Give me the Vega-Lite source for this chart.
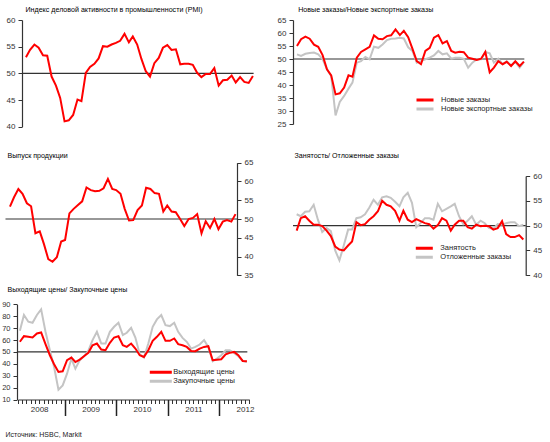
{
  "$schema": "https://vega.github.io/schema/vega-lite/v6.json",
  "width": 550,
  "height": 442,
  "autosize": "none",
  "padding": 0,
  "background": "white",
  "config": {
    "view": {"stroke": null},
    "font": "Liberation Sans",
    "axis": {"grid": false, "labelFont": "Liberation Sans", "labelFontSize": 8, "labelColor": "#333", "domainColor": "#333", "domainWidth": 1.2, "tickColor": "#333", "tickSize": 4, "labelPadding": 3, "titleFont": "Liberation Sans", "titleFontSize": 7.1, "titleFontWeight": "normal", "titleColor": "#000", "titleAngle": 0, "titleAlign": "left", "titleBaseline": "middle"},
    "legend": {"title": null, "labelFont": "Liberation Sans", "labelFontSize": 7.5, "labelColor": "#222", "labelBaseline": "middle", "symbolSize": 49, "symbolStrokeWidth": 3, "clipHeight": 7, "rowPadding": 1, "padding": 0, "labelOffset": 16}
  },
  "datasets": {
    "ref": [
      {"p": "A", "m": "2008-01-18", "m2": "2012-07-20", "v": 50},
      {"p": "B", "m": "2008-01-18", "m2": "2012-07-18", "v": 50},
      {"p": "C", "m": "2008-01-14", "m2": "2012-07-26", "v": 50},
      {"p": "D", "m": "2008-01-20", "m2": "2012-08-01", "v": 50},
      {"p": "E", "m": "2008-01-25", "m2": "2012-07-18", "v": 50}
    ],
    "main": [
      {"m": "2008-02-15", "pmi": 53.0, "out": 53.3, "Новые заказы": 55.0, "Новые экспортные заказы": 51.8, "Занятость": 49.0, "Отложенные заказы": 52.3, "Выходящие цены": 58.5, "Закупочные цены": 67.7},
      {"m": "2008-03-15", "pmi": 54.4, "out": 55.8, "Новые заказы": 57.6, "Новые экспортные заказы": 51.2, "Занятость": 51.5, "Отложенные заказы": 51.9, "Выходящие цены": 63.2, "Закупочные цены": 81.0},
      {"m": "2008-04-15", "pmi": 55.4, "out": 58.0, "Новые заказы": 58.6, "Новые экспортные заказы": 52.0, "Занятость": 51.9, "Отложенные заказы": 52.8, "Выходящие цены": 62.7, "Закупочные цены": 75.4},
      {"m": "2008-05-15", "pmi": 54.8, "out": 56.7, "Новые заказы": 57.8, "Новые экспортные заказы": 52.3, "Занятость": 51.0, "Отложенные заказы": 52.9, "Выходящие цены": 62.1, "Закупочные цены": 74.5},
      {"m": "2008-06-15", "pmi": 53.4, "out": 54.2, "Новые заказы": 55.5, "Новые экспортные заказы": 52.5, "Занятость": 50.2, "Отложенные заказы": 54.2, "Выходящие цены": 65.5, "Закупочные цены": 81.0},
      {"m": "2008-07-15", "pmi": 53.3, "out": 53.4, "Новые заказы": 54.7, "Новые экспортные заказы": 51.8, "Занятость": 50.2, "Отложенные заказы": 51.2, "Выходящие цены": 66.3, "Закупочные цены": 85.8},
      {"m": "2008-08-15", "pmi": 49.4, "out": 46.2, "Новые заказы": 51.5, "Новые экспортные заказы": 50.0, "Занятость": 49.9, "Отложенные заказы": 48.7, "Выходящие цены": 56.5, "Закупочные цены": 66.9},
      {"m": "2008-09-15", "pmi": 47.7, "out": 46.7, "Новые заказы": 46.0, "Новые экспортные заказы": 46.0, "Занятость": 49.0, "Отложенные заказы": 49.5, "Выходящие цены": 47.2, "Закупочные цены": 51.4},
      {"m": "2008-10-15", "pmi": 45.4, "out": 43.3, "Новые заказы": 43.7, "Новые экспортные заказы": 43.5, "Занятость": 47.9, "Отложенные заказы": 48.9, "Выходящие цены": 39.6, "Закупочные цены": 37.3},
      {"m": "2008-11-15", "pmi": 41.0, "out": 39.3, "Новые заказы": 36.4, "Новые экспортные заказы": 28.3, "Занятость": 45.8, "Отложенные заказы": 45.0, "Выходящие цены": 33.1, "Закупочные цены": 18.2},
      {"m": "2008-12-15", "pmi": 41.2, "out": 38.6, "Новые заказы": 36.8, "Новые экспортные заказы": 33.5, "Занятость": 45.2, "Отложенные заказы": 43.0, "Выходящие цены": 33.7, "Закупочные цены": 21.8},
      {"m": "2009-01-15", "pmi": 42.2, "out": 39.8, "Новые заказы": 39.0, "Новые экспортные заказы": 35.8, "Занятость": 45.0, "Отложенные заказы": 46.0, "Выходящие цены": 43.0, "Закупочные цены": 31.7},
      {"m": "2009-02-15", "pmi": 45.1, "out": 44.0, "Новые заказы": 43.7, "Новые экспортные заказы": 38.6, "Занятость": 46.0, "Отложенные заказы": 49.2, "Выходящие цены": 45.2, "Закупочные цены": 44.4},
      {"m": "2009-03-15", "pmi": 44.8, "out": 44.4, "Новые заказы": 43.2, "Новые экспортные заказы": 40.9, "Занятость": 46.8, "Отложенные заказы": 49.2, "Выходящие цены": 41.5, "Закупочные цены": 35.9},
      {"m": "2009-04-15", "pmi": 50.1, "out": 51.5, "Новые заказы": 50.5, "Новые экспортные заказы": 48.6, "Занятость": 50.7, "Отложенные заказы": 51.5, "Выходящие цены": 43.5, "Закупочные цены": 43.0},
      {"m": "2009-05-15", "pmi": 51.2, "out": 52.7, "Новые заказы": 52.7, "Новые экспортные заказы": 49.2, "Занятость": 50.1, "Отложенные заказы": 51.7, "Выходящие цены": 46.3, "Закупочные цены": 46.3},
      {"m": "2009-06-15", "pmi": 51.8, "out": 53.7, "Новые заказы": 53.7, "Новые экспортные заказы": 50.8, "Занятость": 50.3, "Отложенные заказы": 52.3, "Выходящие цены": 49.2, "Закупочные цены": 50.8},
      {"m": "2009-07-15", "pmi": 52.8, "out": 54.7, "Новые заказы": 54.7, "Новые экспортные заказы": 49.9, "Занятость": 51.2, "Отложенные заказы": 53.6, "Выходящие цены": 55.6, "Закупочные цены": 59.9},
      {"m": "2009-08-15", "pmi": 55.1, "out": 58.4, "Новые заказы": 59.1, "Новые экспортные заказы": 54.7, "Занятость": 51.9, "Отложенные заказы": 55.2, "Выходящие цены": 57.0, "Закупочные цены": 66.9},
      {"m": "2009-09-15", "pmi": 55.0, "out": 57.7, "Новые заказы": 57.8, "Новые экспортные заказы": 54.3, "Занятость": 52.9, "Отложенные заказы": 54.2, "Выходящие цены": 52.0, "Закупочные цены": 57.0},
      {"m": "2009-10-15", "pmi": 55.4, "out": 57.4, "Новые заказы": 57.6, "Новые экспортные заказы": 55.6, "Занятость": 55.0, "Отложенные заказы": 55.7, "Выходящие цены": 51.4, "Закупочные цены": 57.0},
      {"m": "2009-11-15", "pmi": 55.7, "out": 57.5, "Новые заказы": 58.8, "Новые экспортные заказы": 57.3, "Занятость": 54.2, "Отложенные заказы": 55.9, "Выходящие цены": 57.6, "Закупочные цены": 66.9},
      {"m": "2009-12-15", "pmi": 56.1, "out": 58.2, "Новые заказы": 59.1, "Новые экспортные заказы": 57.8, "Занятость": 53.9, "Отложенные заказы": 55.6, "Выходящие цены": 62.1, "Закупочные цены": 71.1},
      {"m": "2010-01-15", "pmi": 57.4, "out": 60.7, "Новые заказы": 61.4, "Новые экспортные заказы": 57.9, "Занятость": 53.0, "Отложенные заказы": 54.8, "Выходящие цены": 63.2, "Закупочные цены": 74.5},
      {"m": "2010-02-15", "pmi": 55.8, "out": 58.0, "Новые заказы": 59.2, "Новые экспортные заказы": 58.2, "Занятость": 51.0, "Отложенные заказы": 53.9, "Выходящие цены": 55.6, "Закупочные цены": 64.1},
      {"m": "2010-03-15", "pmi": 56.9, "out": 57.7, "Новые заказы": 60.8, "Новые экспортные заказы": 57.9, "Занятость": 53.0, "Отложенные заказы": 55.7, "Выходящие цены": 54.2, "Закупочные цены": 66.1},
      {"m": "2010-04-15", "pmi": 55.4, "out": 56.7, "Новые заказы": 58.4, "Новые экспортные заказы": 54.5, "Занятость": 51.2, "Отложенные заказы": 56.6, "Выходящие цены": 57.0, "Закупочные цены": 70.3},
      {"m": "2010-05-15", "pmi": 52.7, "out": 52.7, "Новые заказы": 54.0, "Новые экспортные заказы": 53.1, "Занятость": 50.7, "Отложенные заказы": 54.6, "Выходящие цены": 52.8, "Закупочные цены": 62.1},
      {"m": "2010-06-15", "pmi": 50.4, "out": 49.6, "Новые заказы": 49.2, "Новые экспортные заказы": 48.6, "Занятость": 51.3, "Отложенные заказы": 49.7, "Выходящие цены": 47.2, "Закупочные цены": 48.0},
      {"m": "2010-07-15", "pmi": 49.4, "out": 49.7, "Новые заказы": 48.0, "Новые экспортные заказы": 49.2, "Занятость": 50.9, "Отложенные заказы": 50.5, "Выходящие цены": 45.8, "Закупочные цены": 45.2},
      {"m": "2010-08-15", "pmi": 51.9, "out": 52.4, "Новые заказы": 53.1, "Новые экспортные заказы": 49.9, "Занятость": 50.5, "Отложенные заказы": 51.5, "Выходящие цены": 51.4, "Закупочные цены": 57.0},
      {"m": "2010-09-15", "pmi": 52.9, "out": 53.6, "Новые заказы": 54.3, "Новые экспортные заказы": 50.5, "Занятость": 50.3, "Отложенные заказы": 51.5, "Выходящие цены": 59.3, "Закупочные цены": 71.1},
      {"m": "2010-10-15", "pmi": 54.8, "out": 58.3, "Новые заказы": 58.2, "Новые экспортные заказы": 51.4, "Занятость": 49.4, "Отложенные заказы": 51.2, "Выходящие цены": 62.7, "Закупочные цены": 77.3},
      {"m": "2010-11-15", "pmi": 55.3, "out": 58.0, "Новые заказы": 59.2, "Новые экспортные заказы": 53.1, "Занятость": 50.1, "Отложенные заказы": 54.4, "Выходящие цены": 66.9, "Закупочные цены": 81.0},
      {"m": "2010-12-15", "pmi": 54.4, "out": 56.9, "Новые заказы": 56.0, "Новые экспортные заказы": 51.8, "Занятость": 51.5, "Отложенные заказы": 52.9, "Выходящие цены": 59.3, "Закупочные цены": 72.5},
      {"m": "2011-01-15", "pmi": 54.5, "out": 56.7, "Новые заказы": 56.9, "Новые экспортные заказы": 52.2, "Занятость": 51.0, "Отложенные заказы": 53.4, "Выходящие цены": 59.3, "Закупочные цены": 71.7},
      {"m": "2011-02-15", "pmi": 51.7, "out": 52.0, "Новые заказы": 53.1, "Новые экспортные заказы": 50.1, "Занятость": 49.0, "Отложенные заказы": 53.9, "Выходящие цены": 61.3, "Закупочные цены": 74.5},
      {"m": "2011-03-15", "pmi": 51.8, "out": 53.6, "Новые заказы": 52.4, "Новые экспортные заказы": 50.5, "Занятость": 50.2, "Отложенные заказы": 54.4, "Выходящие цены": 56.5, "Закупочные цены": 66.9},
      {"m": "2011-04-15", "pmi": 51.8, "out": 52.0, "Новые заказы": 52.8, "Новые экспортные заказы": 50.5, "Занятость": 51.0, "Отложенные заказы": 51.9, "Выходящие цены": 55.6, "Закупочные цены": 61.8},
      {"m": "2011-05-15", "pmi": 51.6, "out": 51.8, "Новые заказы": 52.6, "Новые экспортные заказы": 50.1, "Занятость": 51.0, "Отложенные заказы": 50.3, "Выходящие цены": 54.2, "Закупочные цены": 58.5},
      {"m": "2011-06-15", "pmi": 50.1, "out": 50.0, "Новые заказы": 50.5, "Новые экспортные заказы": 46.7, "Занятость": 49.7, "Отложенные заказы": 51.0, "Выходящие цены": 50.8, "Закупочные цены": 52.8},
      {"m": "2011-07-15", "pmi": 49.3, "out": 48.1, "Новые заказы": 50.1, "Новые экспортные заказы": 48.6, "Занятость": 49.4, "Отложенные заказы": 51.9, "Выходящие цены": 50.6, "Закупочные цены": 54.2},
      {"m": "2011-08-15", "pmi": 49.9, "out": 50.0, "Новые заказы": 49.6, "Новые экспортные заказы": 49.9, "Занятость": 50.2, "Отложенные заказы": 50.2, "Выходящие цены": 52.8, "Закупочные цены": 56.2},
      {"m": "2011-09-15", "pmi": 49.9, "out": 50.3, "Новые заказы": 50.1, "Новые экспортные заказы": 49.9, "Занятость": 49.9, "Отложенные заказы": 51.0, "Выходящие цены": 54.2, "Закупочные цены": 59.9},
      {"m": "2011-10-15", "pmi": 51.0, "out": 51.3, "Новые заказы": 52.7, "Новые экспортные заказы": 52.7, "Занятость": 50.0, "Отложенные заказы": 50.5, "Выходящие цены": 54.8, "Закупочные цены": 54.2},
      {"m": "2011-11-15", "pmi": 47.7, "out": 46.2, "Новые заказы": 44.9, "Новые экспортные заказы": 52.2, "Занятость": 49.9, "Отложенные заказы": 49.5, "Выходящие цены": 43.0, "Закупочные цены": 42.1},
      {"m": "2011-12-15", "pmi": 48.7, "out": 49.4, "Новые заказы": 46.7, "Новые экспортные заказы": 48.6, "Занятость": 49.2, "Отложенные заказы": 49.4, "Выходящие цены": 43.5, "Закупочные цены": 44.4},
      {"m": "2012-01-15", "pmi": 48.8, "out": 47.6, "Новые заказы": 49.2, "Новые экспортные заказы": 50.1, "Занятость": 49.5, "Отложенные заказы": 50.3, "Выходящие цены": 43.8, "Закупочные цены": 47.2},
      {"m": "2012-02-15", "pmi": 49.6, "out": 50.0, "Новые заказы": 48.0, "Новые экспортные заказы": 48.0, "Занятость": 50.9, "Отложенные заказы": 50.2, "Выходящие цены": 48.0, "Закупочные цены": 51.4},
      {"m": "2012-03-15", "pmi": 48.3, "out": 47.3, "Новые заказы": 48.9, "Новые экспортные заказы": 49.1, "Занятость": 48.3, "Отложенные заказы": 50.5, "Выходящие цены": 49.2, "Закупочные цены": 51.4},
      {"m": "2012-04-15", "pmi": 49.3, "out": 49.3, "Новые заказы": 47.3, "Новые экспортные заказы": 47.6, "Занятость": 47.7, "Отложенные заказы": 50.7, "Выходящие цены": 50.0, "Закупочные цены": 49.2},
      {"m": "2012-05-15", "pmi": 48.4, "out": 49.7, "Новые заказы": 49.1, "Новые экспортные заказы": 48.9, "Занятость": 47.7, "Отложенные заказы": 50.7, "Выходящие цены": 47.2, "Закупочные цены": 46.3},
      {"m": "2012-06-15", "pmi": 48.2, "out": 49.3, "Новые заказы": 47.3, "Новые экспортные заказы": 46.7, "Занятость": 48.1, "Отложенные заказы": 49.9, "Выходящие цены": 42.4, "Закупочные цены": 42.4},
      {"m": "2012-07-15", "pmi": 49.5, "out": 51.3, "Новые заказы": 49.0, "Новые экспортные заказы": 48.9, "Занятость": 47.2, "Отложенные заказы": 50.2, "Выходящие цены": 42.1, "Закупочные цены": 41.5}
    ]
  },
  "layer": [
    {
      "data": {"name": "main"},
      "encoding": {
        "x": {"field": "m", "type": "temporal", "scale": {"type": "utc", "domain": [{"year": 2008, "month": 2, "date": 1, "utc": true}, {"year": 2012, "month": 8, "date": 1, "utc": true}], "range": [24, 255.3]}, "axis": null},
        "y": {"field": "v", "type": "quantitative", "scale": {"domain": [40, 60], "range": [126.7, 20]}, "axis": {"orient": "left", "offset": -22, "values": [40, 45, 50, 55, 60], "title": "Индекс деловой активности в промышленности (PMI)", "titleX": 3, "titleY": 9.5}}
      },
      "layer": [
        {"data": {"name": "ref"}, "transform": [{"filter": "datum.p == 'A'"}], "mark": {"type": "rule", "color": "#333", "strokeWidth": 1.2}, "encoding": {"x2": {"field": "m2"}}},
        {"transform": [{"fold": ["pmi"], "as": ["s", "v"]}], "mark": {"type": "line", "color": "#ff0000", "strokeWidth": 2}}
      ]
    },
    {
      "data": {"name": "main"},
      "encoding": {
        "x": {"field": "m", "type": "temporal", "scale": {"type": "utc", "domain": [{"year": 2008, "month": 2, "date": 1, "utc": true}, {"year": 2012, "month": 8, "date": 1, "utc": true}], "range": [295, 526.3]}, "axis": null},
        "y": {"field": "v", "type": "quantitative", "scale": {"domain": [25, 65], "range": [124, 20]}, "axis": {"orient": "left", "offset": -293, "values": [25, 30, 35, 40, 45, 50, 55, 60, 65], "title": "Новые заказы/Новые экспортные заказы", "titleX": 4.7, "titleY": 9.5}}
      },
      "layer": [
        {"data": {"name": "ref"}, "transform": [{"filter": "datum.p == 'B'"}], "mark": {"type": "rule", "color": "#333", "strokeWidth": 1.2}, "encoding": {"x2": {"field": "m2"}}},
        {"transform": [{"fold": ["Новые экспортные заказы"], "as": ["s", "v"]}], "mark": {"type": "line", "strokeWidth": 2},
         "encoding": {"color": {"field": "s", "type": "nominal", "scale": {"domain": ["Новые заказы", "Новые экспортные заказы"], "range": ["#ff0000", "#c4c4c4"]}, "legend": {"orient": "none", "legendX": 415, "legendY": 96.5, "symbolType": "M-1,0H3.86"}}}},
        {"transform": [{"fold": ["Новые заказы"], "as": ["s", "v"]}], "mark": {"type": "line", "strokeWidth": 2},
         "encoding": {"color": {"field": "s", "type": "nominal", "scale": {"domain": ["Новые заказы", "Новые экспортные заказы"], "range": ["#ff0000", "#c4c4c4"]}, "legend": {"orient": "none", "legendX": 415, "legendY": 96.5, "symbolType": "M-1,0H3.86"}}}}
      ]
    },
    {
      "data": {"name": "main"},
      "encoding": {
        "x": {"field": "m", "type": "temporal", "scale": {"type": "utc", "domain": [{"year": 2008, "month": 2, "date": 1, "utc": true}, {"year": 2012, "month": 8, "date": 1, "utc": true}], "range": [8, 237.9]}, "axis": null},
        "y": {"field": "v", "type": "quantitative", "scale": {"domain": [35, 65], "range": [275.3, 162.7]}, "axis": {"orient": "right", "offset": -313, "values": [35, 40, 45, 50, 55, 60, 65], "title": "Выпуск продукции", "titleX": -230, "titleY": 155}}
      },
      "layer": [
        {"data": {"name": "ref"}, "transform": [{"filter": "datum.p == 'C'"}], "mark": {"type": "rule", "color": "#333", "strokeWidth": 1.2}, "encoding": {"x2": {"field": "m2"}}},
        {"transform": [{"fold": ["out"], "as": ["s", "v"]}], "mark": {"type": "line", "color": "#ff0000", "strokeWidth": 2}}
      ]
    },
    {
      "data": {"name": "main"},
      "encoding": {
        "x": {"field": "m", "type": "temporal", "scale": {"type": "utc", "domain": [{"year": 2008, "month": 2, "date": 1, "utc": true}, {"year": 2012, "month": 8, "date": 1, "utc": true}], "range": [294.7, 525.7]}, "axis": null},
        "y": {"field": "v", "type": "quantitative", "scale": {"domain": [40, 60], "range": [275.3, 176]}, "axis": {"orient": "right", "offset": -24.3, "values": [40, 45, 50, 55, 60], "title": "Занятость/ Отложенные заказы", "titleX": -231.7, "titleY": 155}}
      },
      "layer": [
        {"data": {"name": "ref"}, "transform": [{"filter": "datum.p == 'D'"}], "mark": {"type": "rule", "color": "#333", "strokeWidth": 1.2}, "encoding": {"x2": {"field": "m2"}}},
        {"transform": [{"fold": ["Отложенные заказы"], "as": ["s", "v"]}], "mark": {"type": "line", "strokeWidth": 2},
         "encoding": {"color": {"field": "s", "type": "nominal", "scale": {"domain": ["Занятость", "Отложенные заказы"], "range": ["#ff0000", "#c4c4c4"]}, "legend": {"orient": "none", "legendX": 414.3, "legendY": 244.8, "symbolType": "M-1,0H3.86"}}}},
        {"transform": [{"fold": ["Занятость"], "as": ["s", "v"]}], "mark": {"type": "line", "strokeWidth": 2},
         "encoding": {"color": {"field": "s", "type": "nominal", "scale": {"domain": ["Занятость", "Отложенные заказы"], "range": ["#ff0000", "#c4c4c4"]}, "legend": {"orient": "none", "legendX": 414.3, "legendY": 244.8, "symbolType": "M-1,0H3.86"}}}}
      ]
    },
    {
      "data": {"name": "main"},
      "encoding": {
        "x": {"field": "m", "type": "temporal", "scale": {"type": "utc", "domain": [{"year": 2008, "month": 2, "date": 1, "utc": true}, {"year": 2012, "month": 8, "date": 1, "utc": true}], "range": [17.9, 249.3]},
              "axis": {"orient": "bottom", "offset": -42.5, "tickCount": {"interval": "month", "step": 1}, "tickSize": 4, "labelExpr": "utcmonth(datum.value) == 6 ? '' + utcyear(datum.value) : ''", "labelPadding": 2, "labelOverlap": false, "labelFlush": false, "labelBound": false, "labelFontSize": 8, "title": "Источник: HSBC, Markit", "titleX": 5, "titleY": 35.3, "titleFontSize": 7, "titleColor": "#222"}},
        "y": {"field": "v", "type": "quantitative", "scale": {"domain": [10, 90], "range": [399.5, 304.3]}, "axis": {"orient": "left", "offset": -17, "values": [10, 20, 30, 40, 50, 60, 70, 80, 90], "labelFontSize": 7.5, "title": "Выходящие цены/ Закупочные цены", "titleX": -10, "titleY": 289.5}}
      },
      "resolve": {"axis": {"x": "independent"}},
      "layer": [
        {"data": {"name": "ref"}, "transform": [{"filter": "datum.p == 'E'"}], "mark": {"type": "rule", "color": "#333", "strokeWidth": 1.2}, "encoding": {"x2": {"field": "m2"}}},
        {"transform": [{"fold": ["Закупочные цены"], "as": ["s", "v"]}], "mark": {"type": "line", "strokeWidth": 2},
         "encoding": {
           "x": {"field": "m", "type": "temporal", "axis": {"orient": "bottom", "offset": -42.5, "values": [{"year": 2009, "month": 1, "date": 1, "utc": true}, {"year": 2010, "month": 1, "date": 1, "utc": true}, {"year": 2011, "month": 1, "date": 1, "utc": true}, {"year": 2012, "month": 1, "date": 1, "utc": true}], "tickSize": 16, "tickWidth": 1.5, "tickColor": "#222", "labels": false, "domain": false, "title": null}},
           "color": {"field": "s", "type": "nominal", "scale": {"domain": ["Выходящие цены", "Закупочные цены"], "range": ["#ff0000", "#c4c4c4"]}, "legend": {"orient": "none", "legendX": 148.3, "legendY": 368.8, "symbolType": "M-1,0H5.29", "labelOffset": 15}}}},
        {"transform": [{"fold": ["Выходящие цены"], "as": ["s", "v"]}], "mark": {"type": "line", "strokeWidth": 2},
         "encoding": {
           "x": {"field": "m", "type": "temporal", "axis": null},
           "color": {"field": "s", "type": "nominal", "scale": {"domain": ["Выходящие цены", "Закупочные цены"], "range": ["#ff0000", "#c4c4c4"]}, "legend": {"orient": "none", "legendX": 148.3, "legendY": 368.8, "symbolType": "M-1,0H5.29", "labelOffset": 15}}}}
      ]
    }
  ],
  "resolve": {
    "scale": {"x": "independent", "y": "independent", "color": "independent"},
    "axis": {"x": "independent", "y": "independent"},
    "legend": {"color": "independent"}
  }
}
